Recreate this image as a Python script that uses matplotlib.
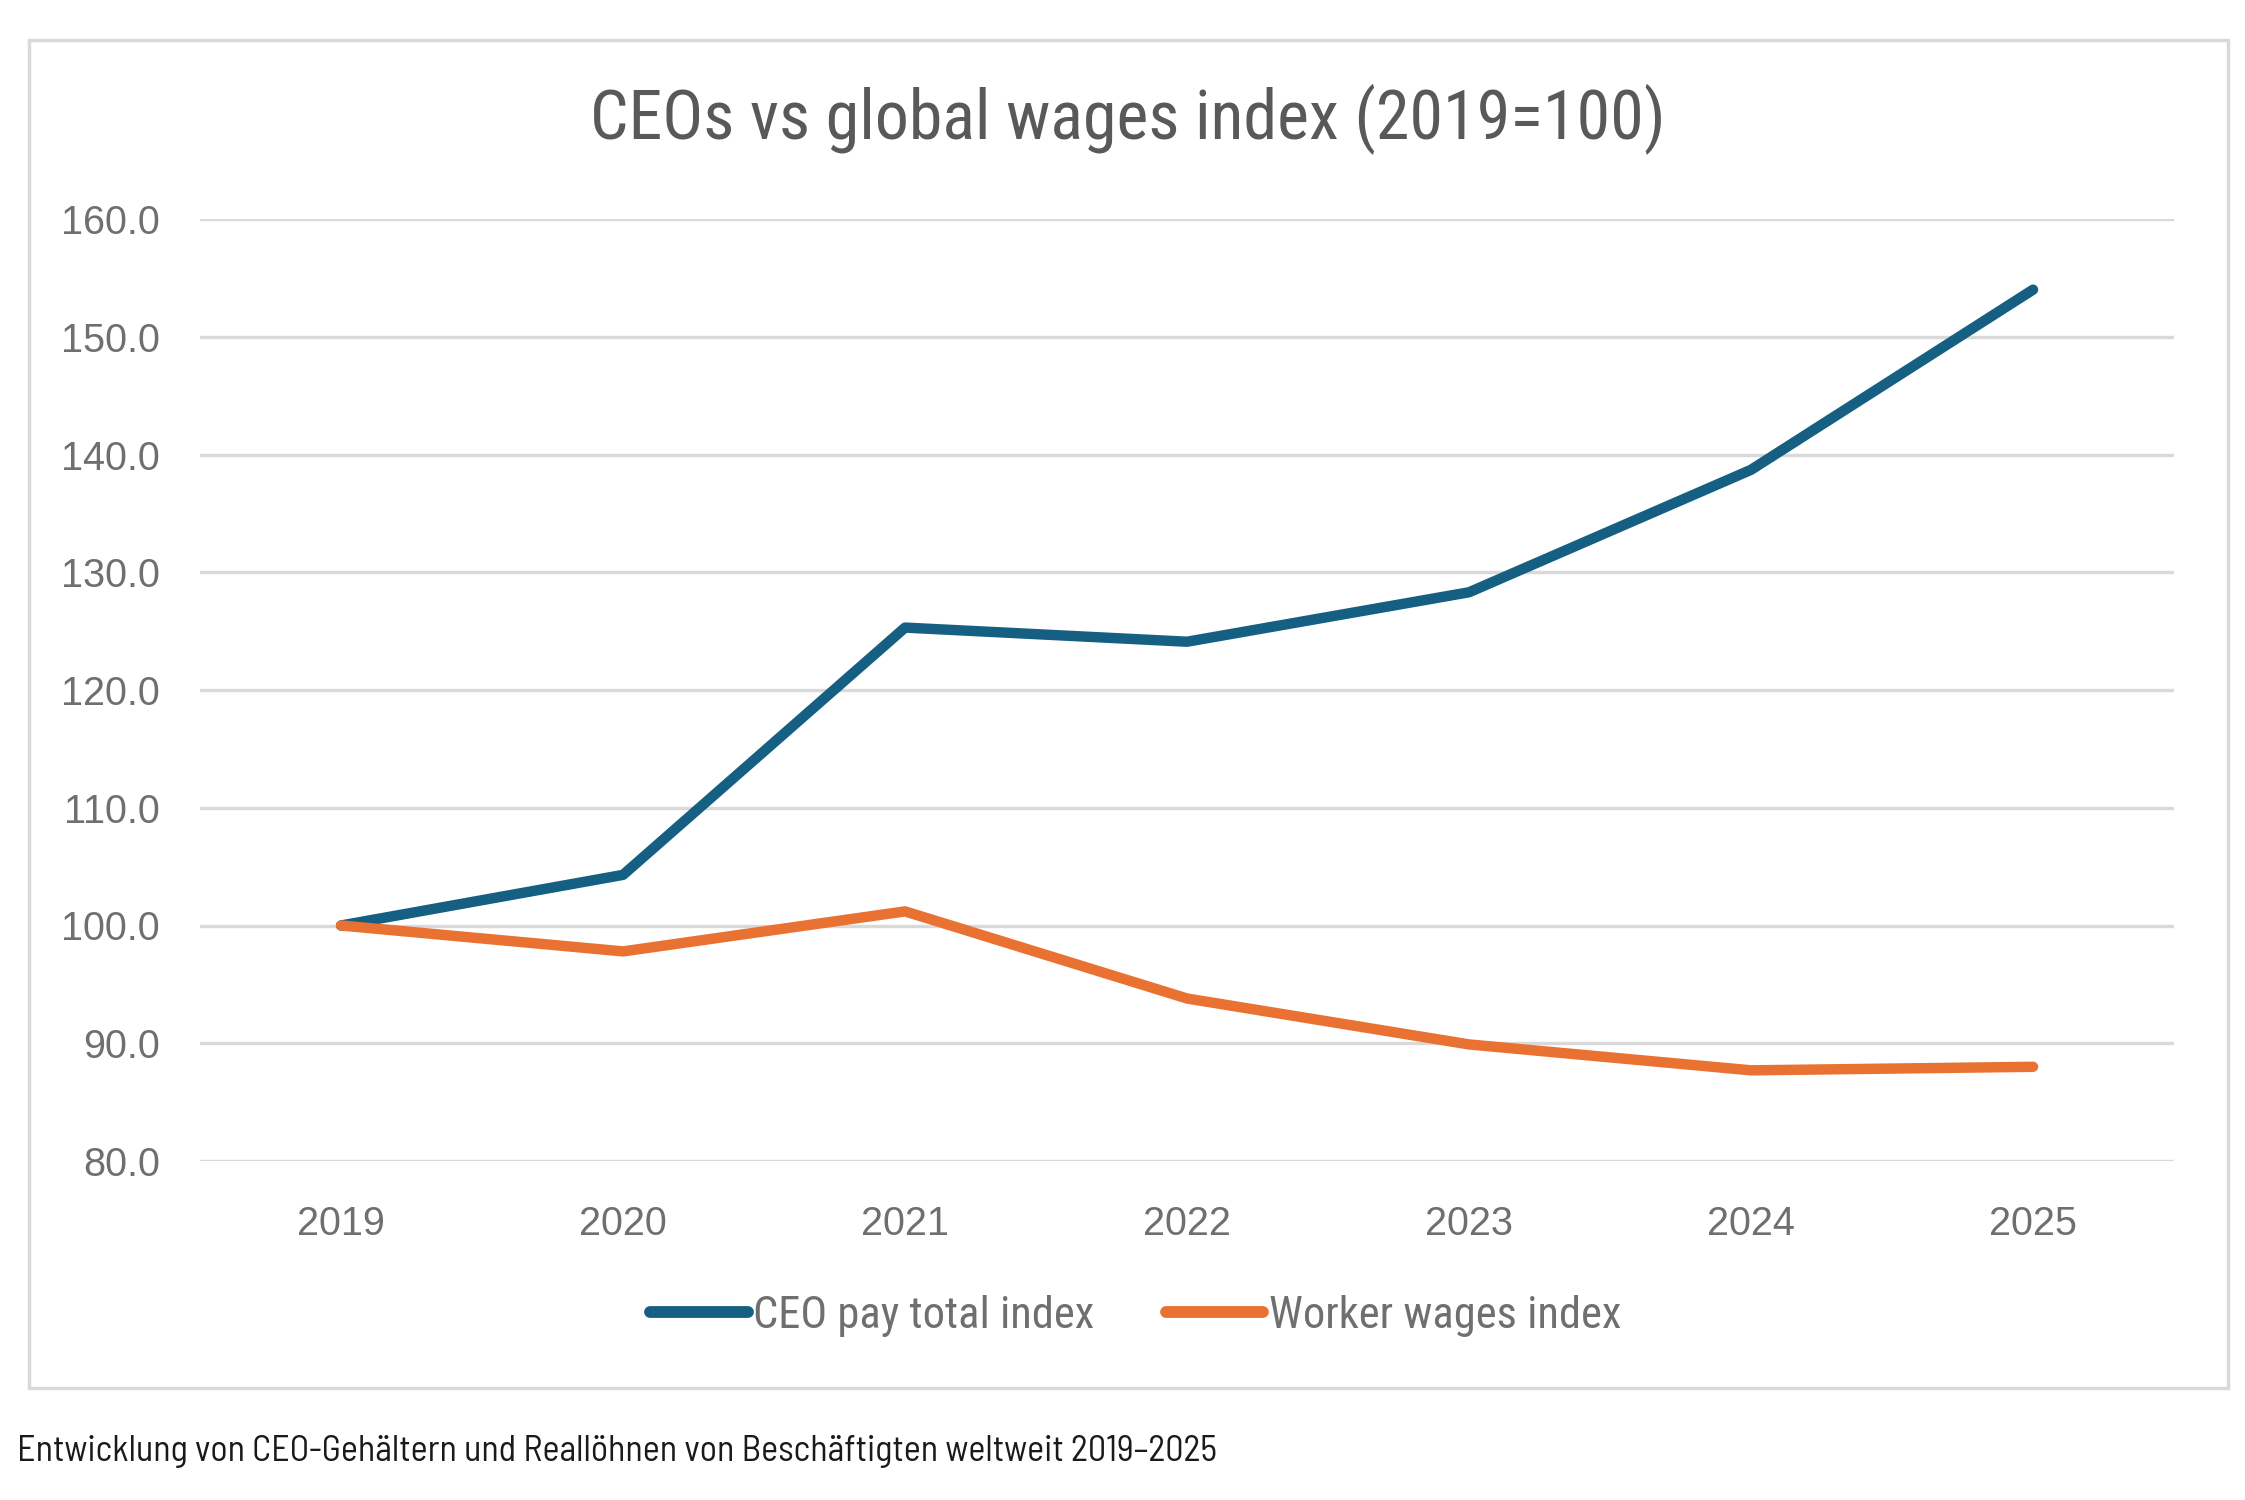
import matplotlib
matplotlib.use("Agg")
from matplotlib import pyplot as plt
from matplotlib.patches import Rectangle

# values
years = ["2019", "2020", "2021", "2022", "2023", "2024", "2025"]
ceo_pay = [100.0, 104.3, 125.3, 124.1, 128.3, 138.7, 154.0]
worker_wages = [100.0, 97.8, 101.2, 93.8, 89.9, 87.7, 88.0]
y_ticks = [80, 90, 100, 110, 120, 130, 140, 150, 160]

title = "CEOs vs global wages index (2019=100)"
caption = "Entwicklung von CEO-Gehältern und Reallöhnen von Beschäftigten weltweit 2019–2025"

blue = "#156082"
orange = "#E97132"
grey_text = "#6f6f6f"
narrow = ["Roboto Condensed", "Archivo Narrow", "PT Sans Narrow", "DejaVu Sans"]
cond = ["Barlow Semi Condensed", "Barlow Condensed", "Roboto Condensed", "DejaVu Sans"]

fig = plt.figure(figsize=(22.45, 15), dpi=100)
ax = fig.add_axes([0.0891, 0.226, 0.8793, 0.628])

x = range(len(years))
ax.plot(x, ceo_pay, color=blue, linewidth=7.5, solid_capstyle="round",
        solid_joinstyle="round", label="CEO pay total index", zorder=3)
ax.plot(x, worker_wages, color=orange, linewidth=7.5, solid_capstyle="round",
        solid_joinstyle="round", label="Worker wages index", zorder=3)

ax.set_xlim(-0.5, len(years) - 0.5)
ax.set_ylim(80, 160)
ax.set_xticks(list(x))
ax.set_xticklabels(years)
ax.set_yticks(y_ticks)
ax.set_yticklabels([f"{v:.1f}" for v in y_ticks])
ax.tick_params(axis="both", length=0, labelsize=28.5, labelcolor=grey_text)
ax.tick_params(axis="y", pad=29)
ax.tick_params(axis="x", pad=32)
for lab in ax.get_xticklabels() + ax.get_yticklabels():
    lab.set_fontfamily(["Liberation Sans", "DejaVu Sans"])

ax.grid(axis="y", color="#d9d9d9", linewidth=2.4, zorder=0)
for s in ax.spines.values():
    s.set_visible(False)

fig.text(0.5025, 1 - 119 / 1500, title, ha="center", va="center",
         fontsize=49, color="#595959", family=narrow)

leg = fig.legend(loc="center", bbox_to_anchor=(0.5058, 1 - 1316 / 1500), ncol=2,
                 frameon=False, handlelength=2.2, handletextpad=0.12,
                 columnspacing=1.6, prop={"family": narrow, "size": 32})
for t in leg.get_texts():
    t.set_color(grey_text)
for h in leg.legend_handles:
    h.set_linewidth(8.5)

# outer chart frame
fig.patches.append(Rectangle((29 / 2245, 1 - 1388 / 1500), 2199 / 2245, 1348 / 1500,
                             transform=fig.transFigure, fill=False,
                             edgecolor="#d9d9d9", linewidth=2.5))

fig.text(17 / 2245, 1 - 1451 / 1500, caption, ha="left", va="center",
         fontsize=26, color="#1a1a1a", family=cond)

fig.savefig("out.png", dpi=100)
